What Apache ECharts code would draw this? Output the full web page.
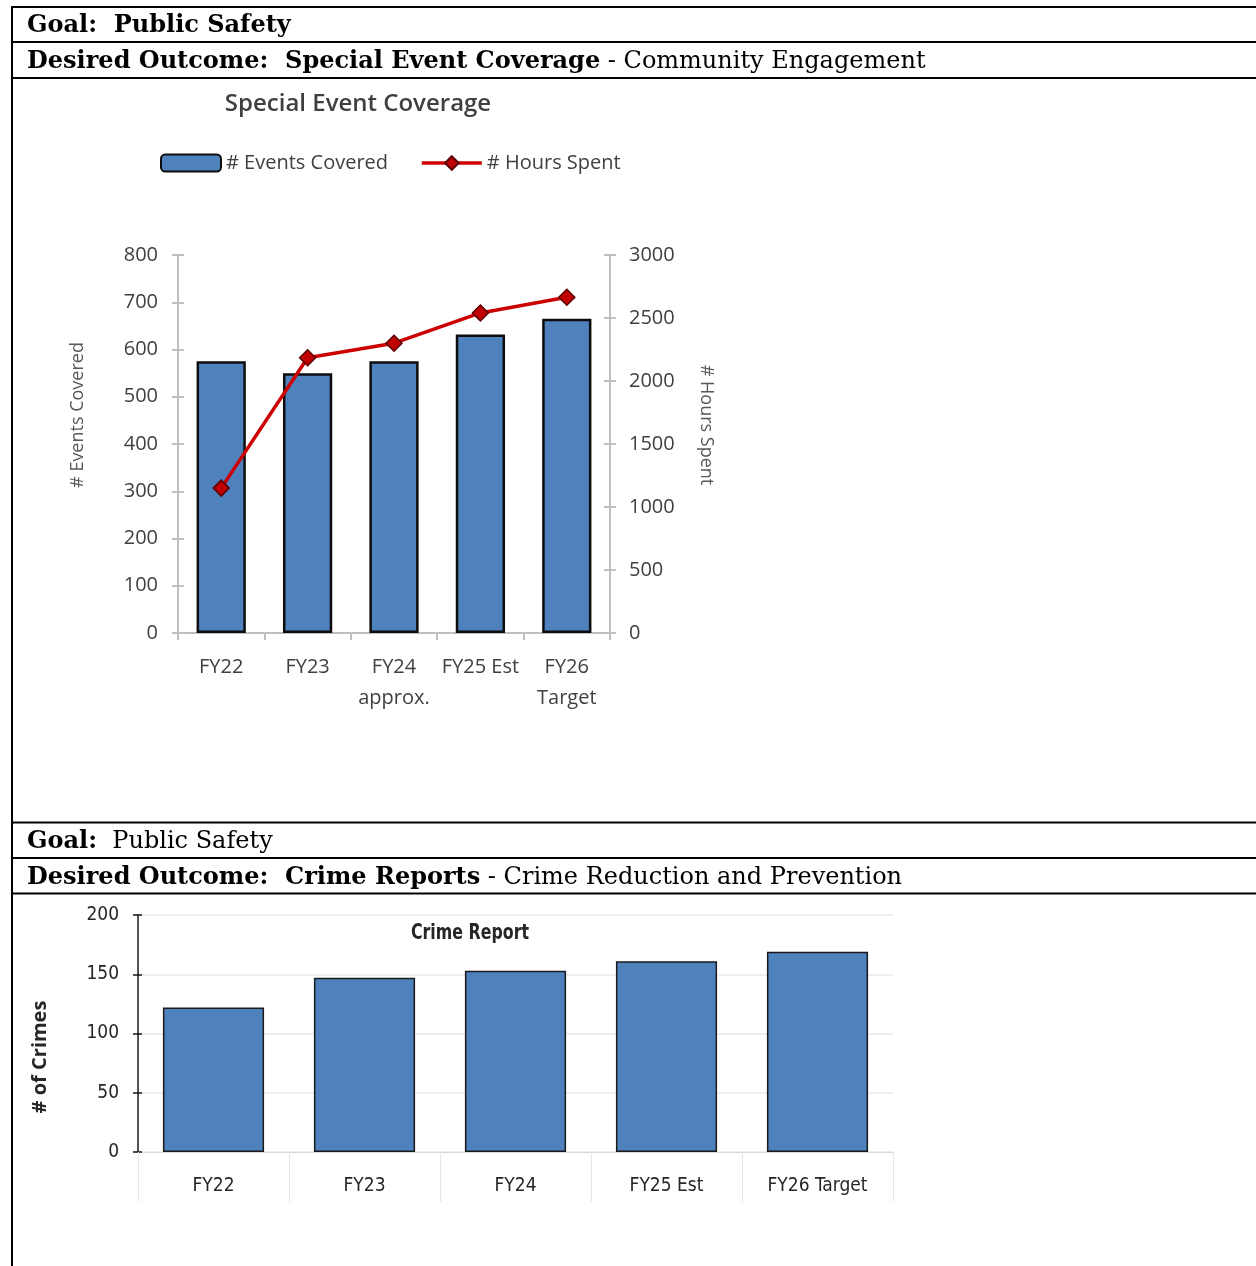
<!DOCTYPE html>
<html>
<head>
<meta charset="utf-8">
<script src="https://cdn.jsdelivr.net/npm/echarts@6/dist/echarts.min.js"></script>
<style>
html,body{margin:0;padding:0;background:#fff;}
#c{width:1256px;height:1266px;}
</style>
</head>
<body>
<div id="c"></div>
<script>
// ---- data ----
var eventCategories = ['FY22', 'FY23', 'FY24\napprox.', 'FY25 Est', 'FY26\nTarget'];
var eventsCovered = [575, 550, 575, 632, 665];
var hoursSpent = [1150, 2185, 2300, 2540, 2665];
var crimeCategories = ['FY22', 'FY23', 'FY24', 'FY25 Est', 'FY26 Target'];
var crimeCounts = [122, 147, 153, 161, 169];

var chart = echarts.init(document.getElementById('c'), null, {renderer: 'canvas'});

var topFont = '"Open Sans", sans-serif';
var narrowFont = '"Liberation Sans Narrow", "DejaVu Sans Condensed", sans-serif';
var serifFont = '"DejaVu Serif", serif';
var gray = '#bfbfbf';

function hline(y, x1, x2, w) {
  return {type: 'line', shape: {x1: x1, y1: y, x2: x2, y2: y}, style: {stroke: '#000', lineWidth: w || 2}, silent: true};
}
function header(y, text) {
  return {type: 'text', x: 27, y: y, style: {text: text,
    rich: {b: {fontWeight: 'bold', fontSize: 24, fontFamily: serifFont, fill: '#000'}},
    fontSize: 24, fontFamily: serifFont, fill: '#000', textVerticalAlign: 'middle'}};
}

var graphics = [
  hline(7, 12, 1256), hline(42, 12, 1256), hline(78, 12, 1256),
  hline(822.5, 12, 1256), hline(858, 12, 1256), hline(893.5, 12, 1256),
  {type: 'line', shape: {x1: 12, y1: 6, x2: 12, y2: 1266}, style: {stroke: '#000', lineWidth: 2}, silent: true},
  header(26, '{b|Goal:  Public Safety}'),
  header(62, '{b|Desired Outcome:  Special Event Coverage} - Community Engagement'),
  header(842, '{b|Goal:}  Public Safety'),
  header(878, '{b|Desired Outcome:  Crime Reports} - Crime Reduction and Prevention'),
  // chart titles & axis names
  {type: 'text', x: 358, y: 104, style: {text: 'Special Event Coverage', fontSize: 24, fontWeight: 600, fontFamily: topFont, fill: '#404040', textAlign: 'center', textVerticalAlign: 'middle'}},
  {type: 'text', x: 78, y: 415, rotation: Math.PI / 2, style: {text: '# Events Covered', fontSize: 18, fontFamily: topFont, fill: '#595959', textAlign: 'center', textVerticalAlign: 'middle'}},
  {type: 'text', x: 706, y: 425, rotation: -Math.PI / 2, style: {text: '# Hours Spent', fontSize: 18, fontFamily: topFont, fill: '#595959', textAlign: 'center', textVerticalAlign: 'middle'}},
  {type: 'text', x: 470, y: 933, scaleX: 0.8, style: {text: 'Crime Report', fontSize: 22, fontWeight: 'bold', fontFamily: narrowFont, fill: '#262626', textAlign: 'center', textVerticalAlign: 'middle'}},
  {type: 'text', x: 40, y: 1057, rotation: Math.PI / 2, style: {text: '# of Crimes', fontSize: 20, fontWeight: 'bold', fontFamily: topFont, fill: '#262626', textAlign: 'center', textVerticalAlign: 'middle'}}
];

var topLabel = {color: '#404040', fontSize: 20, fontFamily: topFont};
var botLabel = {color: '#262626', fontSize: 19, fontFamily: narrowFont};

var option = {
  animation: false,
  backgroundColor: '#fff',
  graphic: graphics,
  legend: {
    left: 160, top: 153, padding: 0,
    itemWidth: 60, itemHeight: 17, itemGap: 32,
    textStyle: {color: '#404040', fontSize: 20, fontFamily: topFont},
    data: [
      {name: '# Events Covered'},
      {name: '# Hours Spent', lineStyle: {width: 3.5, color: '#cc0000'}}
    ]
  },
  grid: [
    {left: 178, top: 255, width: 432, height: 378},
    {left: 138, top: 915, width: 755, height: 237}
  ],
  xAxis: [
    {type: 'category', gridIndex: 0, data: eventCategories,
      axisLine: {lineStyle: {color: gray, width: 2}},
      axisTick: {show: true, length: 7, lineStyle: {color: gray, width: 2}},
      axisLabel: Object.assign({margin: 19, lineHeight: 31, interval: 0}, topLabel)},
    {type: 'category', gridIndex: 1, data: crimeCategories,
      axisLine: {lineStyle: {color: '#d9d9d9', width: 1}},
      axisTick: {show: true, length: 50, lineStyle: {color: '#e8e8e8', width: 1}},
      axisLabel: Object.assign({margin: 25, interval: 0}, botLabel)}
  ],
  yAxis: [
    {type: 'value', gridIndex: 0, min: 0, max: 800, interval: 100, position: 'left',
      axisLine: {show: true, lineStyle: {color: gray, width: 2}},
      axisTick: {show: true, length: 6, lineStyle: {color: gray, width: 2}},
      splitLine: {show: false},
      axisLabel: Object.assign({margin: 20}, topLabel)},
    {type: 'value', gridIndex: 0, min: 0, max: 3000, interval: 500, position: 'right',
      axisLine: {show: true, lineStyle: {color: gray, width: 2}},
      axisTick: {show: true, length: 6, lineStyle: {color: gray, width: 2}},
      splitLine: {show: false},
      axisLabel: Object.assign({margin: 19, formatter: function (v) { return String(v); }}, topLabel)},
    {type: 'value', gridIndex: 0, min: 0, max: 800, interval: 100, position: 'left',
      axisLine: {show: false}, axisLabel: {show: false}, splitLine: {show: false},
      axisTick: {show: true, inside: true, length: 6, lineStyle: {color: gray, width: 2}}},
    {type: 'value', gridIndex: 0, min: 0, max: 3000, interval: 500, position: 'right',
      axisLine: {show: false}, axisLabel: {show: false}, splitLine: {show: false},
      axisTick: {show: true, inside: true, length: 6, lineStyle: {color: gray, width: 2}}},
    {type: 'value', gridIndex: 1, min: 0, max: 200, interval: 50, position: 'left',
      axisLine: {show: true, lineStyle: {color: '#1a1a1a', width: 1.5}},
      axisTick: {show: true, length: 5, lineStyle: {color: '#1a1a1a', width: 1.5}},
      splitLine: {show: true, lineStyle: {color: '#eeeeee', width: 2}},
      axisLabel: Object.assign({margin: 19}, botLabel)},
    {type: 'value', gridIndex: 1, min: 0, max: 200, interval: 50, position: 'left',
      axisLine: {show: false}, axisLabel: {show: false}, splitLine: {show: false},
      axisTick: {show: true, inside: true, length: 4, lineStyle: {color: '#1a1a1a', width: 1.5}}}
  ],
  series: [
    {name: '# Events Covered', type: 'bar', xAxisIndex: 0, yAxisIndex: 0, data: eventsCovered,
      barCategoryGap: '43%',
      itemStyle: {color: '#4f81bd', borderColor: '#0d0d0d', borderWidth: 2.5}},
    {name: '# Hours Spent', type: 'line', xAxisIndex: 0, yAxisIndex: 1, data: hoursSpent,
      symbol: 'diamond', symbolSize: 16, z: 5,
      lineStyle: {color: '#cc0000', width: 3.5},
      itemStyle: {color: '#c00000', borderColor: '#5a0000', borderWidth: 1.5}},
    {name: 'Crime Report', type: 'bar', xAxisIndex: 1, yAxisIndex: 4, data: crimeCounts,
      barCategoryGap: '33%',
      itemStyle: {color: '#4f81bd', borderColor: '#1a1a1a', borderWidth: 1.5}}
  ]
};
chart.setOption(option);
</script>
</body>
</html>
